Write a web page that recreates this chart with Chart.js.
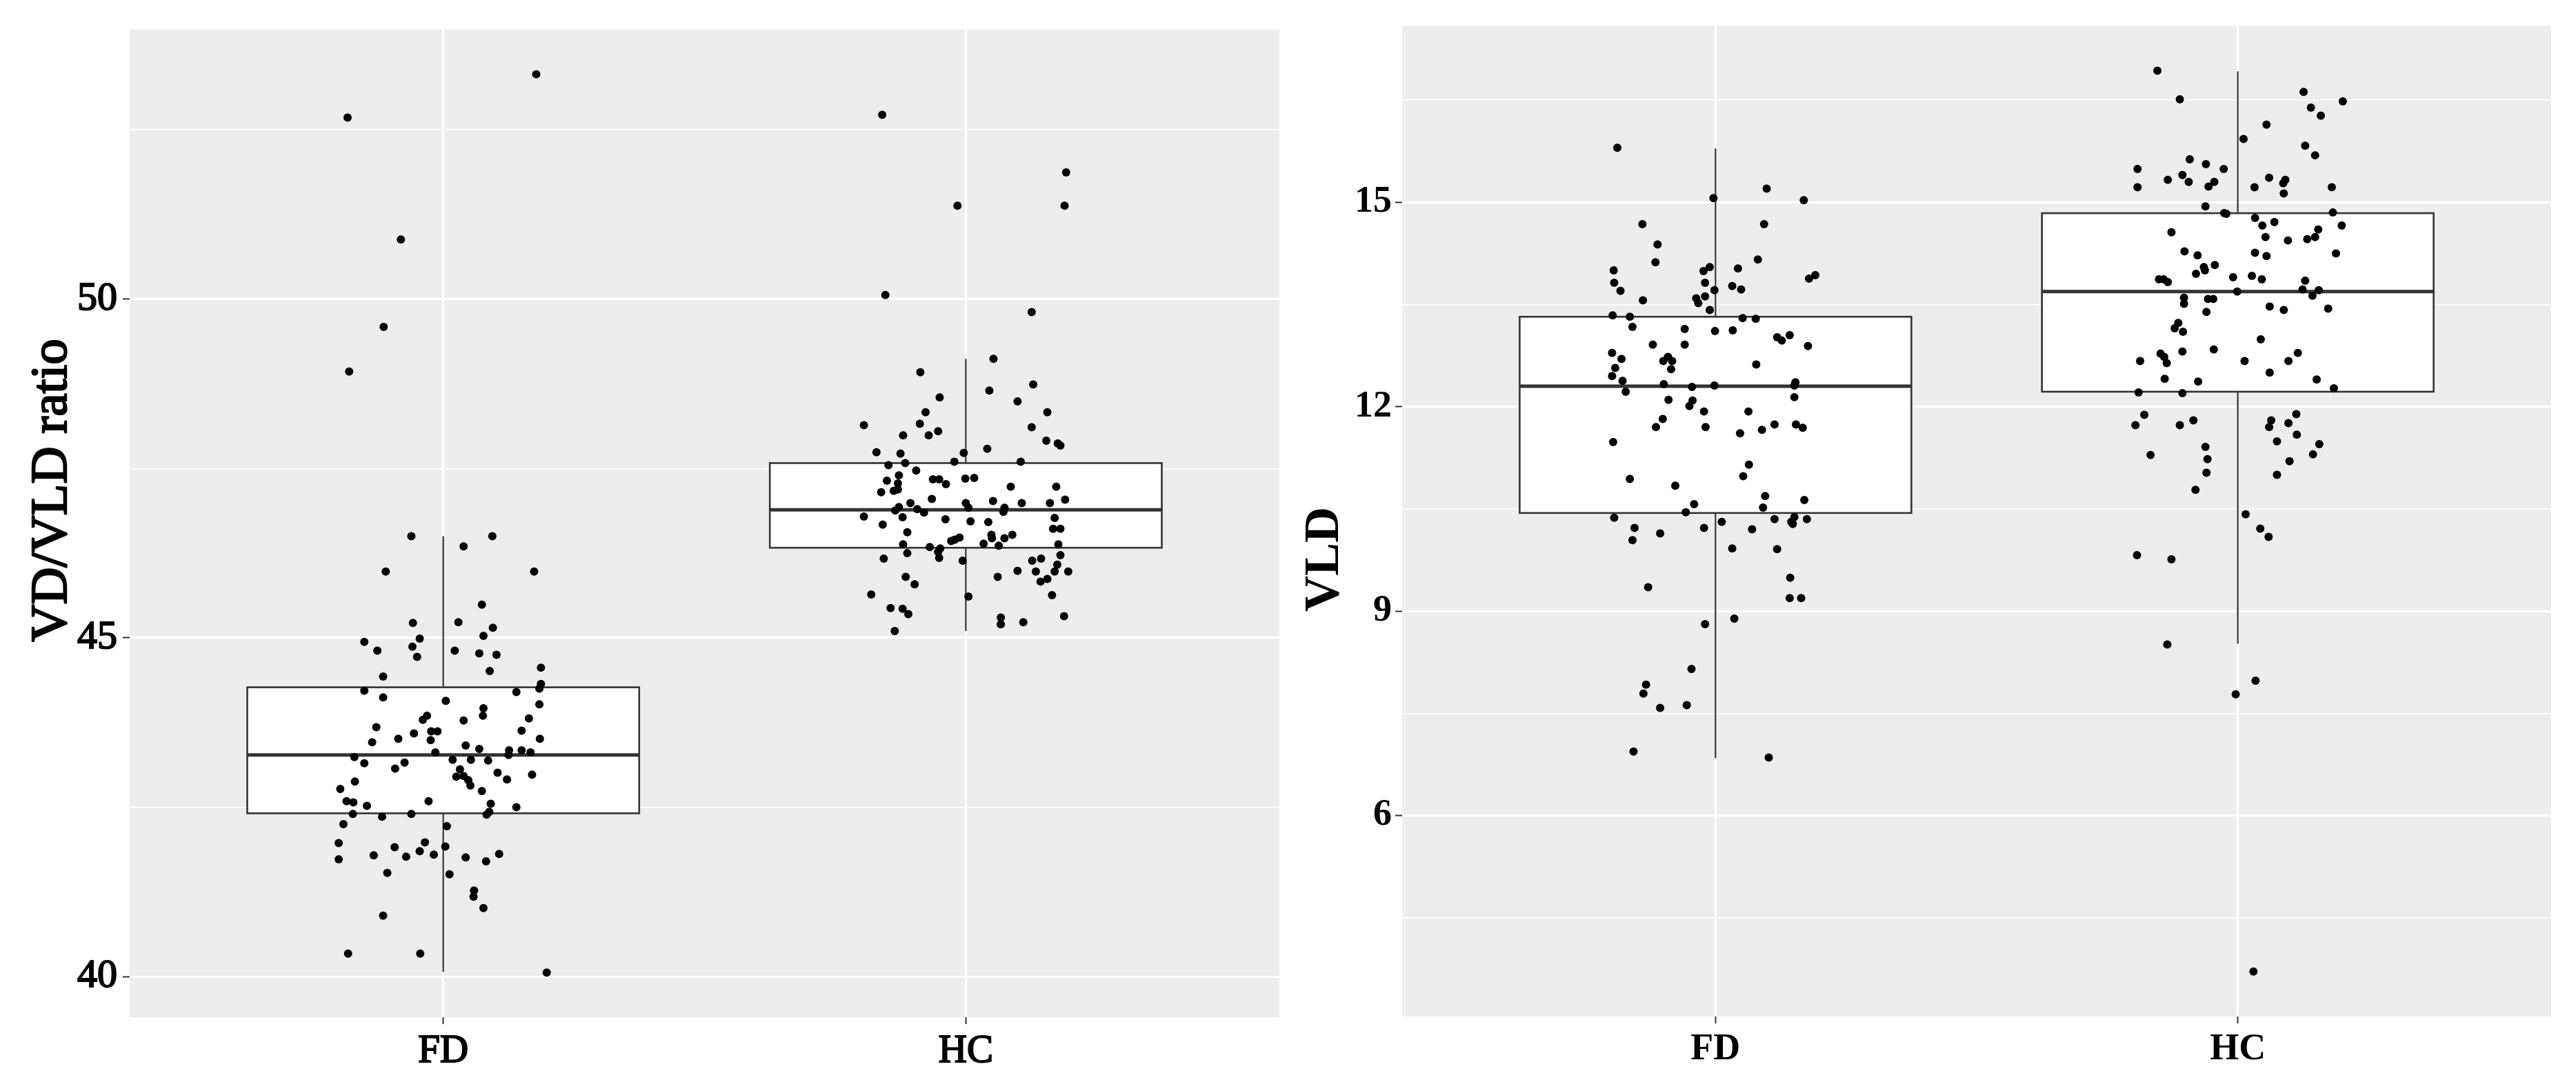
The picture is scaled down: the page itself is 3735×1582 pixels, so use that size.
<!DOCTYPE html>
<html>
<head>
<meta charset="utf-8">
<script src="https://cdn.jsdelivr.net/npm/chart.js@4.4.1/dist/chart.umd.min.js"></script>
<style>
  body { margin: 0; background: #fff; }
  #wrap { position: relative; width: 3735px; height: 1582px; }
  canvas { position: absolute; top: 0; }
  #ratioChart { left: 0; }
  #vldChart { left: 1867px; }
</style>
</head>
<body>
<div id="wrap">
  <canvas id="ratioChart" width="1867" height="1582"></canvas>
  <canvas id="vldChart" width="1868" height="1582"></canvas>
</div>
<script>
const groups = ["FD", "HC"];

// y ticks (major get a label, minor only a thin grid line)
const ratioTicks = [40, 45, 50];
const ratioMinor = [42.5, 47.5, 52.5];
const vldTicks = [6, 9, 12, 15];
const vldMinor = [4.5, 7.5, 10.5, 13.5, 16.5];

// box statistics per group [FD, HC]
const ratioLow = [40.07, 45.10];
const ratioQ1 = [42.41, 46.33];
const ratioMedian = [43.27, 46.89];
const ratioQ3 = [44.27, 47.58];
const ratioHigh = [46.50, 49.12];

const vldLow = [6.84, 8.52];
const vldQ1 = [10.44, 12.22];
const vldMedian = [12.30, 13.69];
const vldQ3 = [13.32, 14.84];
const vldHigh = [15.79, 16.92];

// VD/VLD ratio, FD
const fdRatio = [
  53.32, 52.68, 50.88, 49.59, 48.93,
  46.50, 46.50, 46.35, 45.98, 45.98, 45.49, 45.22, 45.23, 45.15, 45.03,
  44.94, 44.99, 44.81, 44.87, 44.72, 44.81, 44.77, 44.75, 44.56, 44.43,
  44.51, 44.32, 44.25, 44.22, 44.20, 44.12, 44.07, 43.96, 43.85, 44.02,
  43.85, 43.79, 43.78, 43.81, 43.68, 43.62, 43.62, 43.63, 43.59, 43.51,
  43.46, 43.49, 43.51, 43.41, 43.36, 43.34, 43.34, 43.31, 43.31,
  43.24, 43.27, 43.15, 43.16, 43.07, 43.20, 43.20, 43.19, 43.06, 42.95,
  42.96, 42.90, 42.82, 43.01, 42.91, 42.98, 42.88, 42.77, 42.74, 42.59,
  42.57, 42.52, 42.59, 42.55, 42.50, 42.43, 42.39, 42.40, 42.36, 42.40,
  42.25, 42.22, 41.97, 41.98, 41.91, 41.92, 41.85, 41.79, 41.77, 41.80,
  41.73, 41.76, 41.70, 41.81, 41.53, 41.51, 41.27, 41.18, 41.01, 40.90,
  40.34, 40.34, 40.06
];
const fdRatioJitter = [
  0.178, -0.183, -0.081, -0.114, -0.180,
  -0.061, 0.094, 0.039, -0.110, 0.174, 0.074, -0.058, 0.029, 0.095, 0.077,
  -0.151, -0.045, -0.126, -0.059, -0.050, 0.022, 0.069, 0.102, 0.187, -0.115,
  0.089, 0.187, 0.184, -0.151, 0.140, -0.115, 0.005, 0.077, 0.076, 0.184,
  -0.031, -0.039, 0.039, 0.164, -0.128, -0.023, -0.011, 0.150, -0.056, -0.086,
  -0.136, -0.024, 0.185, 0.043, 0.069, 0.126, 0.150, 0.167, -0.015,
  -0.170, 0.125, -0.151, -0.074, -0.092, 0.018, 0.053, 0.086, 0.032, 0.025,
  0.039, 0.048, 0.052, 0.104, 0.122, 0.170, -0.169, -0.197, 0.074, -0.185,
  -0.172, -0.146, -0.028, 0.091, 0.140, 0.088, 0.083, -0.173, -0.117, -0.061,
  -0.191, 0.007, -0.200, -0.035, -0.093, 0.004, -0.045, -0.133, -0.071, -0.018,
  -0.200, 0.043, 0.082, 0.107, -0.107, 0.012, 0.059, 0.058, 0.077, -0.115,
  -0.182, -0.044, 0.198
];

// VD/VLD ratio, HC
const hcRatio = [
  52.72, 51.87, 51.38, 51.38, 50.06, 49.81,
  49.12, 48.92, 48.74, 48.65, 48.55, 48.49, 48.33, 48.33, 48.14, 48.16,
  48.11, 47.99, 47.99, 48.05, 47.91, 47.87, 47.84, 47.79, 47.74, 47.72,
  47.73, 47.58, 47.55, 47.60, 47.60, 47.47, 47.40, 47.32, 47.28, 47.34,
  47.34, 47.27, 47.35, 47.36, 47.15, 47.17, 47.19, 47.23, 47.23, 47.05,
  47.04, 46.99, 46.99, 47.02, 46.99, 46.99, 46.93, 46.88, 46.90, 46.85,
  46.92, 46.92, 46.86, 46.79, 46.78, 46.75, 46.72, 46.71, 46.77, 46.67,
  46.61, 46.61, 46.56, 46.52, 46.47, 46.52, 46.47, 46.48, 46.45, 46.43,
  46.38, 46.39, 46.36, 46.38, 46.34, 46.32,
  46.25, 46.27, 46.18, 46.17, 46.14, 46.22, 46.14, 46.17, 46.08, 45.98,
  45.98, 45.99, 45.98, 45.90, 45.90, 45.87, 45.83, 45.79, 45.64, 45.61,
  45.63, 45.44, 45.43, 45.35, 45.30, 45.20, 45.23, 45.32, 45.10
];
const hcRatioJitter = [
  -0.160, 0.192, -0.016, 0.189, -0.154, 0.126,
  0.053, -0.087, 0.129, 0.045, -0.050, 0.099, -0.077, 0.156, -0.195, -0.088,
  0.126, -0.120, -0.071, -0.053, 0.154, 0.176, 0.181, 0.041, -0.171, -0.125,
  -0.004, -0.116, -0.148, -0.022, 0.105, -0.095, -0.128, -0.151, -0.130, -0.063,
  -0.051, -0.038, -0.001, 0.016, -0.162, -0.138, -0.130, 0.086, 0.173, -0.065,
  0.190, -0.106, 0.000, 0.052, 0.107, 0.161, -0.128, -0.135, -0.093, -0.080,
  0.005, 0.074, 0.072, -0.195, -0.121, -0.039, 0.009, 0.043, 0.170, -0.159,
  0.167, 0.181, -0.112, 0.049, 0.050, 0.089, 0.074, -0.012, -0.021, -0.028,
  -0.120, 0.034, 0.063, 0.177, -0.069, -0.049,
  -0.112, -0.053, -0.051, -0.157, -0.006, 0.181, 0.127, 0.144, 0.175, 0.170,
  0.196, 0.099, 0.134, 0.061, -0.115, 0.156, 0.143, -0.098, -0.181, 0.005,
  0.165, -0.144, -0.121, -0.110, 0.067, 0.067, 0.110, 0.188, -0.136
];

// VLD, FD
const fdVld = [
  15.80, 15.20, 15.06, 15.03, 14.68, 14.68, 14.38, 14.12, 14.16, 14.00,
  14.05, 13.99, 14.03, 13.82, 13.70, 13.82, 13.71, 13.77, 13.72, 13.88,
  13.93, 13.56, 13.59, 13.52, 13.62, 13.42, 13.34, 13.32, 13.17, 13.30,
  13.29, 13.14, 13.11, 13.12, 13.02, 12.97, 13.05, 12.91, 12.91, 12.89,
  12.79, 12.70, 12.73, 12.67, 12.67, 12.55, 12.57, 12.45, 12.62, 12.38,
  12.33, 12.29, 12.31, 12.36, 12.31, 12.22,
  12.14, 12.10, 12.01, 12.09, 11.93, 11.93, 11.82, 11.70, 11.70, 11.61,
  11.66, 11.74, 11.74, 11.69, 11.48, 11.15, 10.98, 10.94, 10.84, 10.57,
  10.69, 10.63, 10.52, 10.45, 10.37, 10.31, 10.35, 10.38, 10.31, 10.28,
  10.35, 10.22, 10.22, 10.14, 10.20, 10.04, 9.92, 9.91, 9.35, 9.49,
  9.19, 9.19, 8.89, 8.81, 8.15, 7.92, 7.79, 7.58, 7.62, 6.94,
  6.85
];
const fdVldJitter = [
  -0.188, 0.098, -0.004, 0.169, -0.140, 0.093, -0.111, -0.115, 0.081, -0.195,
  -0.011, -0.023, 0.043, -0.194, -0.182, -0.020, -0.002, 0.032, 0.049, 0.179,
  0.191, -0.139, -0.037, -0.033, -0.020, -0.011, -0.197, -0.164, -0.159, 0.052,
  0.077, -0.059, -0.001, 0.033, 0.118, 0.127, 0.142, -0.120, -0.059, 0.177,
  -0.198, -0.180, -0.091, -0.100, -0.083, -0.085, -0.192, -0.198, 0.078, -0.178,
  -0.099, -0.045, -0.002, 0.153, 0.151, -0.172,
  0.151, -0.090, -0.050, -0.044, -0.022, 0.063, -0.101, -0.114, -0.019, 0.047,
  0.089, 0.113, 0.154, 0.167, -0.196, 0.064, 0.053, -0.164, -0.077, -0.041,
  0.095, 0.170, 0.091, -0.057, -0.194, 0.012, 0.113, 0.151, 0.145, 0.148,
  0.175, -0.155, -0.022, -0.106, 0.070, -0.159, 0.032, 0.118, -0.129, 0.143,
  0.142, 0.164, 0.036, -0.020, -0.046, -0.133, -0.138, -0.106, -0.055, -0.157,
  0.102
];

// VLD, HC
const hcVld = [
  16.93, 16.51, 16.62, 16.48, 16.39, 16.27, 16.14, 15.93, 15.83, 15.69,
  15.63, 15.56, 15.49, 15.49, 15.40, 15.33, 15.30, 15.30, 15.23, 15.22,
  15.36, 15.33, 15.28, 15.22, 15.13, 15.22, 14.94, 14.84, 14.83, 14.85,
  14.77, 14.66, 14.71, 14.66, 14.56, 14.60, 14.49, 14.44, 14.46, 14.49,
  14.28, 14.22, 14.26, 14.21, 14.25, 14.08, 14.05, 14.00, 13.95, 13.90,
  13.92, 13.87, 13.87, 13.87, 13.83, 13.85, 13.69, 13.72, 13.71, 13.63,
  13.60, 13.51, 13.58, 13.58, 13.39, 13.47, 13.42, 13.44, 13.23, 13.15,
  13.10, 12.99, 12.84, 12.81, 12.79, 12.78, 12.73, 12.67, 12.64, 12.67,
  12.67, 12.50, 12.41, 12.37, 12.40, 12.21, 12.20, 12.27, 11.88, 11.73,
  11.73, 11.80, 11.89, 11.80, 11.70, 11.76, 11.59, 11.49, 11.45, 11.30,
  11.20, 11.00, 11.41, 11.23, 11.03, 11.29, 10.78, 10.42, 10.21, 10.09,
  9.82, 9.76, 8.51, 7.98, 7.78, 3.71
];
const hcVldJitter = [
  -0.154, -0.111, 0.126, 0.201, 0.140, 0.159, 0.055, 0.011, 0.129, 0.148,
  -0.092, -0.061, -0.027, -0.192, -0.106, -0.134, -0.094, -0.045, -0.056, -0.192,
  0.060, 0.091, 0.087, 0.032, 0.088, 0.180, -0.062, -0.026, -0.022, 0.182,
  0.033, 0.047, 0.070, 0.199, -0.127, 0.154, 0.053, 0.096, 0.133, 0.148,
  -0.102, -0.077, 0.033, 0.055, 0.188, -0.044, -0.065, -0.063, -0.080, -0.009,
  0.027, 0.046, -0.151, -0.142, -0.134, 0.129, -0.001, 0.124, 0.155, 0.143,
  -0.103, -0.103, -0.057, -0.047, -0.060, 0.061, 0.088, 0.173, -0.114, -0.121,
  -0.105, 0.044, -0.046, -0.106, 0.115, -0.148, -0.141, -0.187, -0.136, 0.013,
  0.097, 0.061, -0.140, -0.076, 0.151, -0.190, -0.106, 0.184, -0.179, -0.196,
  -0.111, -0.085, 0.112, 0.064, 0.060, 0.097, 0.113, 0.075, 0.156, 0.144,
  0.099, 0.075, -0.062, -0.058, -0.060, -0.167, -0.081, 0.015, 0.043, 0.059,
  -0.193, -0.127, -0.135, 0.034, -0.004, 0.030
];

const serif = '"Liberation Serif", "Times New Roman", serif';

function jitterPoints(values, jitter, pos) {
  return values.map((v, i) => ({ x: pos + jitter[i], y: v }));
}

function pointSet(values, jitter, pos) {
  return {
    type: "scatter",
    data: jitterPoints(values, jitter, pos),
    pointRadius: 6,
    pointHoverRadius: 6,
    pointBackgroundColor: "#000",
    pointBorderWidth: 0
  };
}

// grey panel behind the grid, like ggplot's theme_gray
const panelBackground = {
  id: "panelBackground",
  beforeDraw(chart) {
    const { ctx, chartArea: a } = chart;
    ctx.save();
    ctx.fillStyle = "#EDEDED";
    ctx.fillRect(a.left, a.top, a.right - a.left, a.bottom - a.top);
    ctx.restore();
  }
};

// whiskers, box and median, drawn on the chart's own scales
function boxPlugin(stats) {
  return {
    id: "boxes",
    beforeDatasetsDraw(chart) {
      const { ctx, scales: { x, y } } = chart;
      ctx.save();
      ctx.strokeStyle = "#333";
      stats.q1.forEach((q1, i) => {
        const pos = i + 1;
        const cx = x.getPixelForValue(pos);
        const left = x.getPixelForValue(pos - 0.375);
        const right = x.getPixelForValue(pos + 0.375);
        const top = y.getPixelForValue(stats.q3[i]);
        const bottom = y.getPixelForValue(q1);
        const mid = y.getPixelForValue(stats.median[i]);

        ctx.lineWidth = 2.2;
        ctx.beginPath();
        ctx.moveTo(cx, y.getPixelForValue(stats.low[i]));
        ctx.lineTo(cx, y.getPixelForValue(stats.high[i]));
        ctx.stroke();

        ctx.fillStyle = "#fff";
        ctx.lineWidth = 2.6;
        ctx.fillRect(left, top, right - left, bottom - top);
        ctx.strokeRect(left, top, right - left, bottom - top);

        ctx.lineWidth = 5;
        ctx.beginPath();
        ctx.moveTo(left, mid);
        ctx.lineTo(right, mid);
        ctx.stroke();
      });
      ctx.restore();
    }
  };
}

// rotated y title, placed by its baseline
function yTitle(text, font, baseX, centerY, stroke) {
  return {
    id: "yTitle",
    afterDraw(chart) {
      const ctx = chart.ctx;
      ctx.save();
      ctx.translate(baseX, centerY);
      ctx.rotate(-Math.PI / 2);
      ctx.font = font;
      ctx.fillStyle = "#000";
      ctx.textAlign = "center";
      ctx.textBaseline = "alphabetic";
      ctx.fillText(text, 0, 0);
      if (stroke) {
        ctx.strokeStyle = "#000";
        ctx.lineWidth = stroke;
        ctx.lineJoin = "round";
        ctx.strokeText(text, 0, 0);
      }
      ctx.restore();
    }
  };
}

function yScale(min, max, major, minor, font, pad, width, stroke) {
  const isMajor = c => c.tick && major.includes(c.tick.value);
  return {
    type: "linear",
    min: min,
    max: max,
    afterBuildTicks: s => {
      s.ticks = major.concat(minor).sort((a, b) => a - b).map(v => ({ value: v }));
    },
    afterFit: s => { s.width = width; },
    ticks: {
      autoSkip: false,
      color: "#000",
      font: font,
      padding: pad,
      textStrokeColor: "#000",
      textStrokeWidth: stroke,
      callback: v => major.includes(v) ? String(v) : ""
    },
    grid: {
      color: "#fff",
      lineWidth: c => isMajor(c) ? 3 : 1.5,
      tickColor: c => isMajor(c) ? "#333" : "rgba(0,0,0,0)",
      tickWidth: 2,
      tickLength: 10
    },
    border: { display: false }
  };
}

function xScale(font, height, stroke) {
  return {
    type: "linear",
    min: 0.4,
    max: 2.6,
    afterBuildTicks: s => {
      s.ticks = groups.map((g, i) => ({ value: i + 1 }));
    },
    afterFit: s => { s.height = height; },
    ticks: {
      autoSkip: false,
      maxRotation: 0,
      color: "#000",
      font: font,
      padding: 6,
      textStrokeColor: "#000",
      textStrokeWidth: stroke,
      callback: v => groups[v - 1]
    },
    grid: {
      color: "#fff",
      lineWidth: 3,
      tickColor: "#333",
      tickWidth: 2,
      tickLength: 10
    },
    border: { display: false }
  };
}

new Chart(document.getElementById("ratioChart"), {
  type: "scatter",
  data: {
    datasets: [
      pointSet(fdRatio, fdRatioJitter, 1),
      pointSet(hcRatio, hcRatioJitter, 2)
    ]
  },
  options: {
    responsive: false,
    animation: false,
    devicePixelRatio: 1,
    layout: { padding: { top: 33, right: 12, bottom: 0, left: 0 } },
    plugins: { legend: { display: false }, tooltip: { enabled: false } },
    scales: {
      x: xScale({ family: serif, size: 57 }, 107, 2),
      y: yScale(39.40, 53.98, ratioTicks, ratioMinor, { family: serif, size: 58 }, 8, 188, 2)
    }
  },
  plugins: [
    panelBackground,
    boxPlugin({ low: ratioLow, q1: ratioQ1, median: ratioMedian, q3: ratioQ3, high: ratioHigh }),
    yTitle("VD/VLD ratio", "75px " + serif, 96, 711, 2.4)
  ]
});

new Chart(document.getElementById("vldChart"), {
  type: "scatter",
  data: {
    datasets: [
      pointSet(fdVld, fdVldJitter, 1),
      pointSet(hcVld, hcVldJitter, 2)
    ]
  },
  options: {
    responsive: false,
    animation: false,
    devicePixelRatio: 1,
    layout: { padding: { top: 33, right: 36, bottom: 0, left: 0 } },
    plugins: { legend: { display: false }, tooltip: { enabled: false } },
    scales: {
      x: xScale({ family: serif, size: 54, weight: "bold" }, 108, 0),
      y: yScale(3.05, 17.59, vldTicks, vldMinor, { family: serif, size: 54, weight: "bold" }, 5, 166, 0)
    }
  },
  plugins: [
    panelBackground,
    boxPlugin({ low: vldLow, q1: vldQ1, median: vldMedian, q3: vldQ3, high: vldHigh }),
    yTitle("VLD", "bold 72px " + serif, 73, 811, 0)
  ]
});
</script>
</body>
</html>
